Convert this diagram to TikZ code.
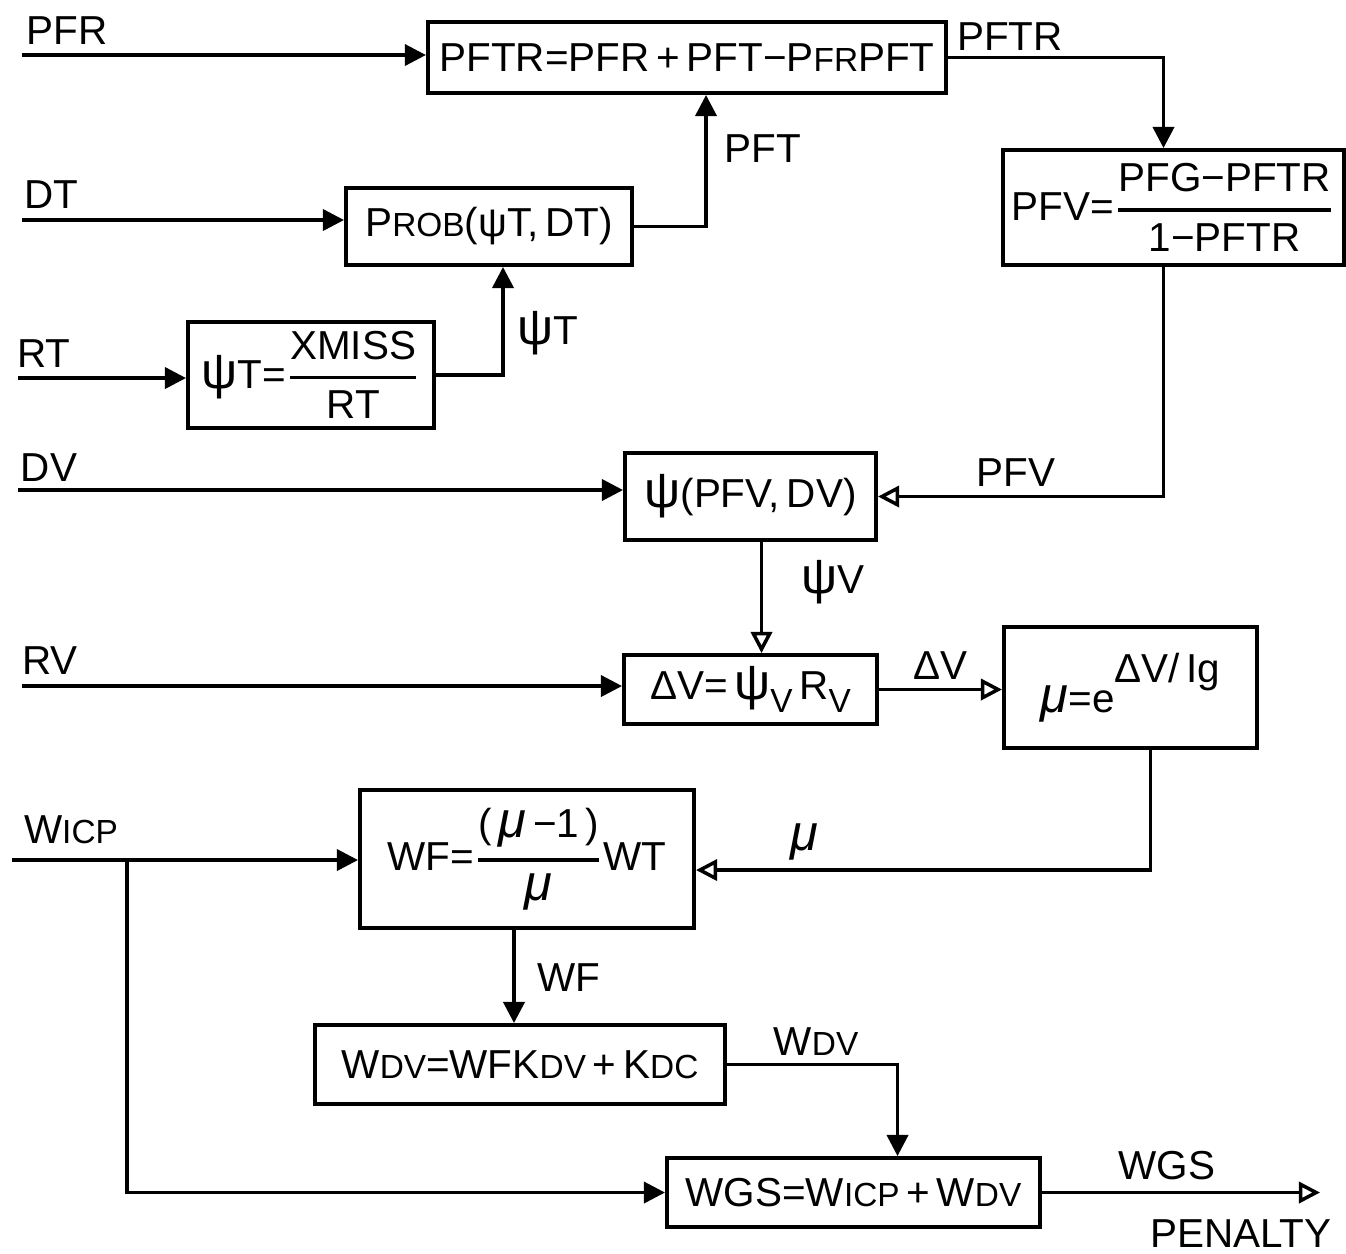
\documentclass[tikz,border=0pt]{standalone}
\usepackage{amsmath}
\usepackage{fontspec}
\setmainfont{Liberation Sans}
\usepackage{tikz}
\usetikzlibrary{arrows.meta, calc}
\newcommand{\smc}[1]{{\fontsize{9.5}{11}\selectfont #1}}
\newcommand{\frc}[2]{\ensuremath{\genfrac{}{}{1.1pt}{0}{\text{#1}}{\text{#2}}}}
\newcommand{\lowv}{\raisebox{-0.6ex}{\fontsize{9.5}{11}\selectfont V}}

\begin{document}
\begin{tikzpicture}[x=0.01cm, y=-0.01cm,
    font=\fontsize{11.5}{13.5}\selectfont,
    box/.style={draw, line width=1.1pt, inner sep=0pt, align=center},
    wire/.style={line width=1pt, -{Triangle[length=6pt, width=6pt]}},
    owire/.style={line width=1pt, -{Triangle[open, length=6pt, width=6pt]}}]
    \useasboundingbox (0,0) rectangle (1346,1253);

    % Draw the blocks
    \node[box, minimum width=5.18cm, minimum height=0.71cm] (pftr) at (687,57.5) {PFTR=PFR\,+\,PFT−P\smc{FR}PFT};
    \node[box, minimum width=2.86cm, minimum height=0.77cm] (prob) at (489,226.5) {P\smc{ROB}(ψT,\,DT)};
    \node[box, minimum width=2.46cm, minimum height=1.06cm] (psit) at (311,375) {{\Large ψ}T=\frc{XMISS}{RT}};
    \node[box, minimum width=3.41cm, minimum height=1.15cm] (pfv) at (1173.5,207.5) {PFV=\frc{PFG−PFTR}{1−PFTR}};
    \node[box, minimum width=2.51cm, minimum height=0.87cm] (psiv) at (750.5,496.5) {{\Large ψ}(PFV,\,DV)};
    \node[box, minimum width=2.53cm, minimum height=0.69cm] (dv) at (750.5,689.5) {ΔV=\,{\Large ψ}\lowv\,R\lowv};
    \node[box, minimum width=2.53cm, minimum height=1.21cm] (mu) at (1130.5,687.5) {{\Large\itshape μ}=e\raisebox{1.4ex}{ΔV/\,Ig}};
    \node[box, minimum width=3.34cm, minimum height=1.38cm] (wf) at (527,859) {WF=\frc{(\,{\Large\itshape μ}\,−1\,)}{{\Large\itshape μ}}WT};
    \node[box, minimum width=4.10cm, minimum height=0.79cm] (wdv) at (520,1064.5) {W\smc{DV}=WFK\smc{DV}\,+\,K\smc{DC}};
    \node[box, minimum width=3.73cm, minimum height=0.69cm] (wgs) at (853.5,1192.5) {WGS=W\smc{ICP}\,+\,W\smc{DV}};

    % Free ends of the inputs and output
    \coordinate (inpfr) at (22,55);
    \coordinate (indt) at (22,220);
    \coordinate (inrt) at (18,378);
    \coordinate (indv) at (18,490);
    \coordinate (inrv) at (22,686);
    \coordinate (inwicp) at (12,860);
    \coordinate (split) at (127,860);
    \coordinate (penalty) at (1320,1192.5);

    % Inputs
    \draw[wire] (inpfr) -- (inpfr -| pftr.west);
    \draw[wire] (indt) -- (indt -| prob.west);
    \draw[wire] (inrt) -- (inrt -| psit.west);
    \draw[wire] (indv) -- (indv -| psiv.west);
    \draw[wire] (inrv) -- (inrv -| dv.west);
    \draw[wire] (inwicp) -- (inwicp -| wf.west);
    \draw[wire] (split) |- (wgs.west);

    % Links between the blocks
    \draw[wire] (psit.east) -| ([xshift=0.14cm]prob.south);
    \draw[wire] (prob.east) -| ([xshift=0.19cm]pftr.south);
    \draw[wire] (pftr.east) -| ([xshift=-0.1cm]pfv.north);
    \draw[owire] ([xshift=-0.1cm]pfv.south) |- (psiv.east);
    \draw[owire] ([xshift=0.11cm]psiv.south) -- ([xshift=0.11cm]dv.north);
    \draw[owire] (dv.east) -- (dv.east -| mu.west);
    \draw[owire] ([xshift=0.2cm]mu.south) |- ([yshift=-0.11cm]wf.east);
    \draw[wire] ([xshift=-0.13cm]wf.south) -- ([xshift=-0.13cm]wf.south |- wdv.north);
    \draw[wire] (wdv.east) -| ([xshift=0.44cm]wgs.north);
    \draw[owire] (wgs.east) -- (penalty);

    % Signal names
    \node (lpfr) at (67,31) {PFR};
    \node (ldt) at (51,195) {DT};
    \node (lrt) at (44,354) {RT};
    \node (ldv) at (49,468) {DV};
    \node (lrv) at (50,661) {RV};
    \node (lwicp) at (71,830) {W\smc{ICP}};
    \node (lpft) at (763,149) {PFT};
    \node (lpftr) at (1010,37) {PFTR};
    \node (lpsit) at (548,333) {{\Large ψ}T};
    \node (lpfv) at (1016,473) {PFV};
    \node (lpsiv) at (833,582) {{\Large ψ}V};
    \node (ldelv) at (940,666) {ΔV};
    \node (lmu) at (804,842) {{\Large\itshape μ}};
    \node (lwf) at (569,978) {WF};
    \node (lwdv) at (816,1042) {W\smc{DV}};
    \node (lwgs) at (1167,1166) {WGS};
    \node (lpen) at (1241,1234) {PENALTY};
\end{tikzpicture}
\end{document}
